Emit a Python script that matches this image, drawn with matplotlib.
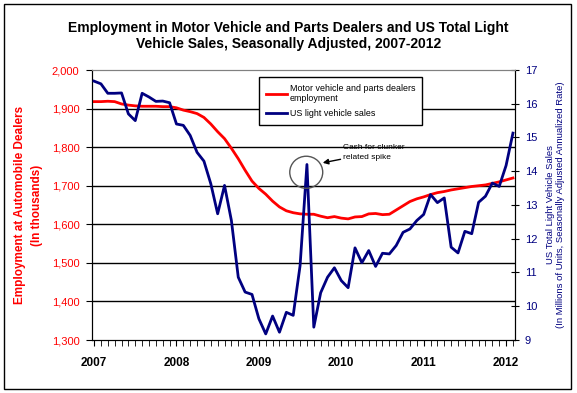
import numpy as np
import matplotlib
matplotlib.use("Agg")
import matplotlib.pyplot as plt
from matplotlib.patches import Ellipse, Rectangle
from matplotlib.ticker import FuncFormatter, MultipleLocator

plt.rcParams['font.family'] = ['Liberation Sans', 'DejaVu Sans']

# monthly data, Jan 2007 - Feb 2012
employment = [1918, 1918, 1919, 1918, 1912, 1909, 1907, 1906, 1906, 1906, 1905, 1905,
              1902, 1896, 1892, 1887, 1877, 1860, 1840, 1822, 1797, 1770, 1740, 1712,
              1693, 1678, 1660, 1645, 1635, 1630, 1627, 1626, 1626, 1621, 1617, 1620,
              1616, 1614, 1619, 1620, 1627, 1628, 1625, 1626, 1637, 1648, 1659, 1666,
              1671, 1677, 1682, 1685, 1689, 1692, 1695, 1698, 1700, 1702, 1706, 1710,
              1715, 1720]
sales = [16.67, 16.59, 16.31, 16.31, 16.32, 15.70, 15.50, 16.31, 16.20, 16.07, 16.08, 16.03,
         15.40, 15.36, 15.06, 14.56, 14.30, 13.63, 12.74, 13.58, 12.54, 10.86, 10.42, 10.35,
         9.63, 9.18, 9.71, 9.23, 9.82, 9.73, 11.20, 14.20, 9.38, 10.40, 10.86, 11.14,
         10.76, 10.55, 11.73, 11.29, 11.65, 11.18, 11.57, 11.55, 11.80, 12.19, 12.29, 12.54,
         12.72, 13.31, 13.07, 13.21, 11.75, 11.58, 12.22, 12.15, 13.08, 13.26, 13.65, 13.55,
         14.17, 15.13]
years = ['2007', '2008', '2009', '2010', '2011', '2012']

months = np.arange(len(employment))
navy = '#000080'

fig = plt.figure(figsize=(5.77, 3.93), dpi=100)
ax = fig.add_axes([92/577, 1 - 340/393, 423/577, 270/393])
ax2 = ax.twinx()

# employment on the left axis
ax.plot(months, employment, color='#FF0000', lw=2, zorder=3)
ax.set_ylim(1300, 2000)
ax.set_xlim(-0.3, 61.3)
ax.yaxis.set_major_locator(MultipleLocator(100))
ax.yaxis.set_major_formatter(FuncFormatter(lambda v, p: f'{int(v):,}'))
ax.tick_params(axis='y', colors='#FF0000', labelsize=8, direction='out', length=4, pad=5)
ax.tick_params(axis='y', color='black')
for y in range(1400, 2000, 100):
    ax.axhline(y, color='black', lw=1, zorder=1)

ax.set_xticks(months[::12])
ax.set_xticklabels(years, fontweight='bold', fontsize=8.5)
ax.xaxis.set_minor_locator(MultipleLocator(1))
ax.tick_params(axis='x', which='both', direction='out', length=4, pad=8)

ax.set_ylabel('Employment at Automobile Dealers\n(In thousands)', color='#FF0000',
              fontweight='bold', fontsize=8.5, labelpad=6, linespacing=1.6)

# sales on the right axis
ax2.plot(months, sales, color=navy, lw=2, zorder=3)
ax2.set_ylim(9, 17)
ax2.yaxis.set_major_locator(MultipleLocator(1))
ax2.tick_params(axis='y', colors=navy, labelsize=8, direction='inout', length=6, pad=4)
ax2.tick_params(axis='y', color='black')
ax2.set_ylabel('US Total Light Vehicle Sales\n(In Millions of Units, Seasonally Adjusted Annualized Rate)',
               color=navy, fontsize=6.8, labelpad=6)

for a in (ax, ax2):
    a.spines['top'].set_color('#808080')
    a.spines['left'].set_color('black')
    a.spines['right'].set_color('black')
    a.spines['bottom'].set_color('black')

# cash for clunkers annotation
ax2.add_patch(Ellipse((months[31] - 0.1, sales[31] - 0.23), 4.8, 0.95, fill=False,
                      edgecolor='#555555', lw=1, zorder=4))
ax2.annotate('Cash for clunker\nrelated spike', xy=(33.3, 14.25), xytext=(36.3, 14.55),
             fontsize=6, va='center', ha='left', linespacing=1.5,
             arrowprops=dict(arrowstyle='-|>', color='black', lw=1, mutation_scale=8,
                             shrinkA=0, shrinkB=0))

# legend
handles = ax.get_lines()[:1] + ax2.get_lines()[:1]
leg = ax2.legend(handles, ['Motor vehicle and parts dealers\nemployment', 'US light vehicle sales'],
                 loc='upper left', bbox_to_anchor=(0.385, 0.99), fontsize=6.4, frameon=True,
                 fancybox=False, edgecolor='black', framealpha=1, handlelength=2.4,
                 handletextpad=0.3, borderpad=0.75, labelspacing=0.7)
leg.get_frame().set_linewidth(1)

fig.suptitle('Employment in Motor Vehicle and Parts Dealers and US Total Light\n'
             'Vehicle Sales, Seasonally Adjusted, 2007-2012',
             x=0.5, y=0.947, fontsize=10, fontweight='bold', linespacing=1.2)

fig.add_artist(Rectangle((4/577, 4/393), 567/577, 385/393, transform=fig.transFigure,
                         fill=False, edgecolor='black', lw=1))

fig.savefig('out.png', dpi=100)
